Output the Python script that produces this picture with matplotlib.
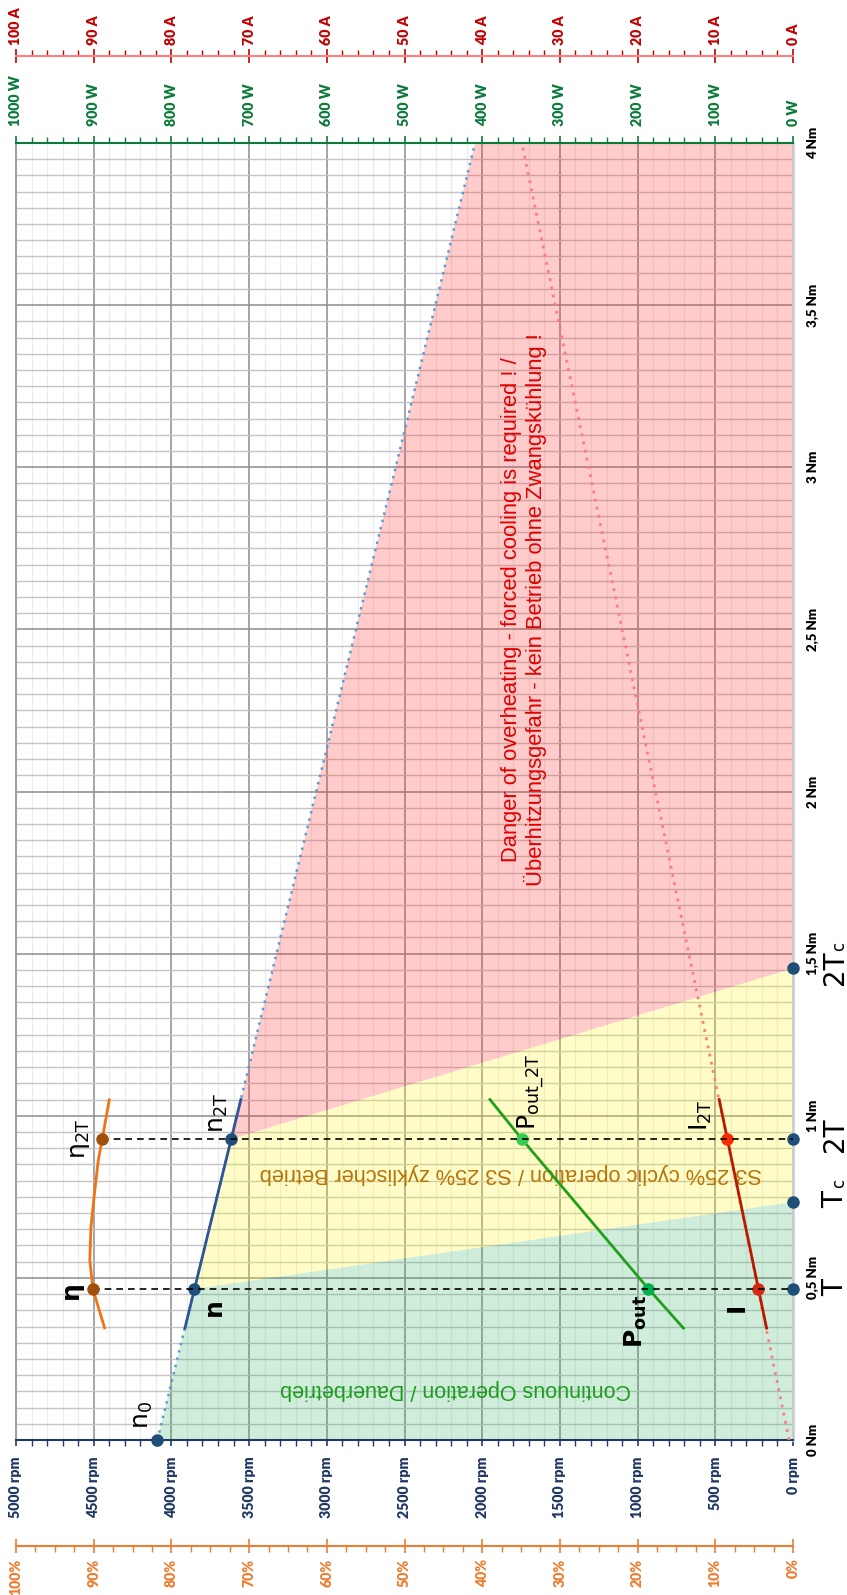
import matplotlib.pyplot as plt
from matplotlib.ticker import MultipleLocator

plt.rcParams['mathtext.fontset'] = 'dejavusans'

# Kenn-Drehmomente (Nm)
T_nom = 0.466
T_c = 0.734
T_2 = 0.928
T_2c = 1.455

# Drehzahl n(M)
speed_torque_full = [0.0, 4.0]
speed_rpm_full = [4090, 2046]
speed_torque = [0.345, 1.05]
speed_rpm = [3913, 3553]
speed_pts_torque = [0.0, T_nom, T_2]
speed_pts_rpm = [4090, 3852, 3616]

# Strom I(M)
current_torque_full = [0.0, 4.0]
current_amp_full = [0.5, 34.9]
current_torque = [0.345, 1.05]
current_amp = [3.4, 9.5]
current_pts_amp = [4.5, 8.5]

# Abgabeleistung P(M)
power_torque = [0.345, 0.466, 0.928, 1.05]
power_watt = [141, 186, 349, 390]
power_pts_watt = [186, 349]

# Wirkungsgrad eta(M)
eff_torque = [0.346, 0.465, 0.555, 0.658, 0.761, 0.864, 0.928, 1.049]
eff_pct = [88.6, 90.1, 90.5, 90.35, 89.9, 89.4, 88.9, 88.0]
eff_pts_pct = [90.1, 88.9]

# Achsen-Beschriftungen
rpm_ticks = list(range(0, 5001, 500))
rpm_labels = [f'{v} rpm' for v in rpm_ticks]
watt_ticks = list(range(0, 1001, 100))
watt_labels = [f'{v} W' for v in watt_ticks]
amp_ticks = list(range(0, 101, 10))
amp_labels = [f'{v} A' for v in amp_ticks]
pct_ticks = list(range(0, 101, 10))
pct_labels = [f'{v}%' for v in pct_ticks]
torque_ticks = [0, 0.5, 1, 1.5, 2, 2.5, 3, 3.5, 4]
torque_labels = ['0 Nm', '0,5 Nm', '1 Nm', '1,5 Nm', '2 Nm', '2,5 Nm', '3 Nm', '3,5 Nm', '4 Nm']

C_RPM = '#1f3864'
C_W = '#0b7a3b'
C_A = '#c00000'
C_PCT = '#ed7d31'
C_PT = '#1f4e79'
TICKFONT = dict(fontfamily='Lato', fontweight='heavy', fontsize=10.2)

fig = plt.figure(figsize=(8.47, 15.95), dpi=100)
ax = fig.add_axes([16 / 847, 155 / 1595, 777 / 847, 1297 / 1595])
ax.set_xlim(5000, 0)
ax.set_ylim(0, 4)

# Raster
ax.set_axisbelow(True)
ax.xaxis.set_minor_locator(MultipleLocator(100))
ax.yaxis.set_minor_locator(MultipleLocator(0.05))
ax.xaxis.grid(True, which='major', color='#8c8c8c', lw=1.1)
ax.yaxis.grid(True, which='major', color='#8c8c8c', lw=1.1)
ax.xaxis.grid(True, which='minor', color='#ebebeb', lw=0.9)
ax.yaxis.grid(True, which='minor', color='#c4c4c4', lw=1.0)

# Betriebsbereiche
ax.fill([speed_pts_rpm[0], speed_pts_rpm[1], 0, 0], [0, T_nom, T_c, 0],
        color='#40b96e', alpha=0.25, lw=0, zorder=1)
ax.fill([speed_pts_rpm[1], speed_pts_rpm[2], 0, 0], [T_nom, T_2, T_2c, T_c],
        color='#fff723', alpha=0.25, lw=0, zorder=1)
ax.fill([speed_pts_rpm[2], speed_rpm_full[1], 0, 0], [T_2, 4, 4, T_2c],
        color='#ff3333', alpha=0.25, lw=0, zorder=1)

# Drehzahl-Achse unten
ax.set_xticks(rpm_ticks, rpm_labels, rotation=90, color=C_RPM, **TICKFONT)
ax.tick_params(axis='x', which='both', direction='out', colors=C_RPM, pad=8)
ax.tick_params(axis='x', which='major', length=4, width=1.2)
ax.tick_params(axis='x', which='minor', length=4, width=1.0)
ax.spines['bottom'].set_color(C_RPM)
ax.spines['bottom'].set_linewidth(1.5)
ax.spines['top'].set_visible(False)
ax.spines['left'].set_color('#a0a0a0')
ax.spines['left'].set_linewidth(1.5)
ax.spines['right'].set_color('#cfcfcf')
ax.spines['right'].set_linewidth(2)

# Drehmoment rechts
ax.yaxis.tick_right()
ax.set_yticks(torque_ticks, torque_labels, rotation=90, va='center', color='black',
              fontfamily='Lato', fontweight='heavy', fontsize=9.5)
ax.tick_params(axis='y', which='both', length=0, pad=10)

# Leistung oben
axW = ax.twiny()
axW.set_xlim(1000, 0)
axW.xaxis.set_minor_locator(MultipleLocator(20))
axW.set_xticks(watt_ticks, watt_labels, rotation=90, color=C_W, **TICKFONT)
axW.tick_params(axis='x', which='both', direction='out', colors=C_W, pad=7)
axW.tick_params(axis='x', which='major', length=5, width=1.2)
axW.tick_params(axis='x', which='minor', length=4, width=1.0)
axW.spines['top'].set_color(C_W)
axW.spines['top'].set_linewidth(1.5)

# Strom ganz oben
axA = ax.twiny()
axA.set_xlim(100, 0)
axA.spines['top'].set_position(('axes', 1 + 87.3 / 1297))
axA.xaxis.set_minor_locator(MultipleLocator(2))
axA.set_xticks(amp_ticks, amp_labels, rotation=90, color=C_A, **TICKFONT)
axA.tick_params(axis='x', which='major', direction='inout', length=10, width=1.2, colors=C_A, pad=3)
axA.tick_params(axis='x', which='minor', direction='out', length=4, width=1.0, colors=C_A)
axA.spines['top'].set_color('#ff7f7f')
axA.spines['top'].set_linewidth(1.5)

# Wirkungsgrad ganz unten
axE = ax.twiny()
axE.set_xlim(100, 0)
axE.xaxis.tick_bottom()
axE.spines['bottom'].set_position(('axes', -106 / 1297))
axE.xaxis.set_minor_locator(MultipleLocator(2.5))
axE.set_xticks(pct_ticks, pct_labels, rotation=90, color=C_PCT, **TICKFONT)
axE.tick_params(axis='x', which='major', direction='inout', length=10, width=1.2, colors=C_PCT, pad=4)
axE.tick_params(axis='x', which='minor', direction='out', length=4, width=1.0, colors=C_PCT)
axE.spines['bottom'].set_color(C_PCT)
axE.spines['bottom'].set_linewidth(1.5)

for a in (axW, axA, axE):
    for s in ('left', 'right'):
        a.spines[s].set_visible(False)
axW.spines['bottom'].set_visible(False)
axA.spines['bottom'].set_visible(False)
axE.spines['top'].set_visible(False)

# Hilfslinien bei T und 2T
for t, e in zip([T_nom, T_2], eff_pts_pct):
    axE.plot([e, 0], [t, t], color='black', lw=1.2, dashes=(4, 3), zorder=3)

# Drehzahl
ax.plot(speed_rpm_full, speed_torque_full, color='#5b9bd5', lw=1.8, ls=(0, (1, 2)), zorder=3)
ax.plot(speed_rpm, speed_torque, color='#2f5597', lw=2.0, zorder=4)
ax.plot(speed_pts_rpm, speed_pts_torque, 'o', color=C_PT, ms=8, zorder=6, clip_on=False)

# Strom
axA.plot(current_amp_full, current_torque_full, color='#ff7c80', lw=2.0, ls=(0, (1, 2)), zorder=3)
axA.plot(current_amp, current_torque, color='#b81a00', lw=2.0, zorder=4)
axA.plot(current_pts_amp[0], T_nom, 'o', color='#d42a10', ms=8, zorder=6)
axA.plot(current_pts_amp[1], T_2, 'o', color='#ff2a00', ms=8, zorder=6)

# Leistung
axW.plot(power_watt, power_torque, color='#1fa01a', lw=2.0, zorder=4)
axW.plot(power_pts_watt[0], T_nom, 'o', color='#00b050', ms=8, zorder=6)
axW.plot(power_pts_watt[1], T_2, 'o', color='#33cc55', ms=8, zorder=6)

# Wirkungsgrad
axE.plot(eff_pct, eff_torque, color='#f07414', lw=2.0, zorder=4)
axE.plot(eff_pts_pct, [T_nom, T_2], 'o', color='#a24f0c', ms=8, zorder=6)

# Kennpunkte am rechten Rand
ax.plot([0] * 4, [T_nom, T_c, T_2, T_2c], 'o', color=C_PT, ms=8, zorder=6, clip_on=False)

# Bereichstexte
ax.text(1730, 2.56, 'Danger of overheating - forced cooling is required ! /\n'
        'Überhitzungsgefahr - kein Betrieb ohne Zwangskühlung !',
        rotation=90, ha='center', va='center', color='#e00000', fontsize=15.8,
        family='Liberation Sans', linespacing=1.1, zorder=5)
ax.text(1814, 0.823, 'S3 25% cyclic operation / S3 25% zyklischer Betrieb',
        rotation=180, ha='center', va='center', color='#b8730a', fontsize=15.7,
        family='Liberation Sans', zorder=5)
ax.text(2171, 0.157, 'Continuous Operation / Dauerbetrieb',
        rotation=180, ha='center', va='center', color='#1c9c1c', fontsize=15.5,
        family='Liberation Sans', zorder=5)

# Kurvenbeschriftungen
LBL = dict(rotation=90, ha='center', va='center', fontsize=18, color='black', zorder=7)
ax.text(4181, 0.077, r'$\mathregular{n_0}$', **LBL)
ax.text(3724, 0.41, 'n', fontweight='bold', **LBL)
ax.text(3699, 1.008, r'$\mathregular{n_{2T}}$', **LBL)
axE.text(92.9, 0.463, 'η', fontweight='bold', **LBL)
axE.text(91.7, 0.928, r'η$_{\mathregular{2T}}$', **LBL)
axW.text(202, 0.364, r'$\mathbf{P_{out}}$', **LBL)
axW.text(338, 1.073, r'$\mathregular{P_{out\_2T}}$', **LBL)
axA.text(7.2, 0.41, 'I', fontweight='bold', **LBL)
axA.text(11.8, 1.002, r'$\mathregular{I_{2T}}$', **LBL)

# Kenn-Drehmomente rechts
RL = dict(rotation=90, ha='center', va='center', color='black', clip_on=False)
ax.text(-270, 0.469, 'T', fontsize=20, **RL)
ax.text(-270, 0.740, 'T', fontsize=20, **RL)
ax.text(-300, 0.790, 'c', fontsize=12, **RL)
ax.text(-270, 0.941, '2T', fontsize=20, **RL)
ax.text(-270, 1.456, '2T', fontsize=20, **RL)
ax.text(-300, 1.522, 'c', fontsize=12, **RL)

fig.savefig('out.png', dpi=100)
